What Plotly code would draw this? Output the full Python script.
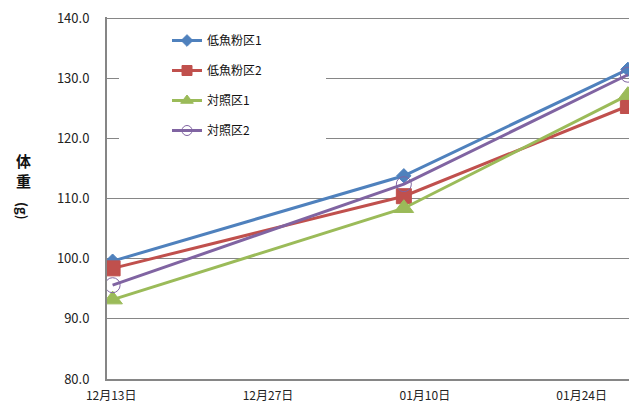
import plotly.graph_objects as go

dates = ["2012-12-13 12:00", "2013-01-08 12:00", "2013-01-28 12:00"]
series_names = ["低魚粉区1", "低魚粉区2", "対照区1", "対照区2"]
low1 = [99.6, 113.8, 131.5]
low2 = [98.4, 110.4, 125.4]
ctrl1 = [93.2, 108.4, 127.2]
ctrl2 = [95.6, 112.4, 130.6]
tick_vals = ["2012-12-13 09:00", "2012-12-27 09:00", "2013-01-10 09:00", "2013-01-24 09:00"]
tick_text = ["12月13日", "12月27日", "01月10日", "01月24日"]
y_ticks = [80, 90, 100, 110, 120, 130, 140]

colors = ["#4F81BD", "#C0504D", "#9BBB59", "#8064A2"]
symbols = ["diamond", "square", "triangle-up", "circle-open"]
sizes = [11, 15, 17, 15]
legend_sizes = [9, 10, 11, 10]
values = [low1, low2, ctrl1, ctrl2]

FONT = "Noto Sans CJK JP"
W, H = 629, 406
L, T, B, R = 107, 17, 27, 0
PW = W - L - R
PH = H - T - B


def fx(px):
    return (px - L) / PW


def fy(py):
    return (H - B - py) / PH


fig = go.Figure()
for i, (name, vals, c, s, sz) in enumerate(zip(series_names, values, colors, symbols, sizes)):
    fig.add_trace(go.Scatter(
        x=dates, y=vals, name=name, mode="lines+markers",
        line=dict(color=c, width=3), legendgroup=f"g{i}", showlegend=False,
        marker=dict(symbol=s, size=sz, color=c, line=dict(color=c, width=1)),
    ))
for i, (name, c, s, sz) in enumerate(zip(series_names, colors, symbols, legend_sizes)):
    fig.add_trace(go.Scatter(
        x=[None], y=[None], name=name, mode="lines+markers",
        line=dict(color=c, width=3), legendgroup=f"g{i}", showlegend=True,
        marker=dict(symbol=s, size=sz, color=c, line=dict(color=c, width=1)),
    ))

fig.update_layout(
    width=W, height=H,
    margin=dict(l=L, r=R, t=T, b=B),
    paper_bgcolor="white", plot_bgcolor="white",
    font=dict(family=FONT, size=12, color="#222222"),
    showlegend=True,
    legend=dict(x=fx(167), y=fy(26), xanchor="left", yanchor="top",
                bgcolor="rgba(255,255,255,0)", font=dict(size=12, color="#111111", family=FONT),
                tracegroupgap=11, itemwidth=30, itemsizing="trace"),
    xaxis=dict(type="date", range=["2012-12-13 00:00", "2013-01-28 14:24"],
               tickvals=tick_vals, ticktext=tick_text, showgrid=False,
               showline=True, linecolor="#868686", linewidth=2,
               ticks="", ticklabelstandoff=5, zeroline=False,
               tickfont=dict(size=12, color="#222222")),
    yaxis=dict(range=[80, 140.2], tickvals=y_ticks,
               ticktext=[f"{v:.1f}" for v in y_ticks],
               showgrid=True, gridcolor="#868686", gridwidth=1,
               showline=True, linecolor="#868686", linewidth=2,
               ticks="", ticklabelstandoff=13, zeroline=False,
               tickfont=dict(size=13, color="#222222")),
    shapes=[
        dict(type="rect", xref="paper", yref="paper",
             x0=fx(119), x1=fx(326), y0=fy(160), y1=fy(22),
             fillcolor="white", line=dict(width=0), layer="above"),
    ],
    annotations=[
        dict(text="<b>体<br>重</b>", xref="paper", yref="paper",
             x=fx(23), y=fy(170), showarrow=False,
             font=dict(size=15, family=FONT, color="#111111"),
             xanchor="center", yanchor="middle"),
        dict(text="<b>(g)</b>", xref="paper", yref="paper", textangle=90,
             x=fx(23), y=fy(211), showarrow=False,
             font=dict(size=13, family=FONT, color="#111111"),
             xanchor="center", yanchor="middle"),
    ],
)

fig.write_html(
    "out.html",
    config={"displayModeBar": False},
    post_script="document.body.style.margin='0';document.body.style.overflow='hidden';",
)
